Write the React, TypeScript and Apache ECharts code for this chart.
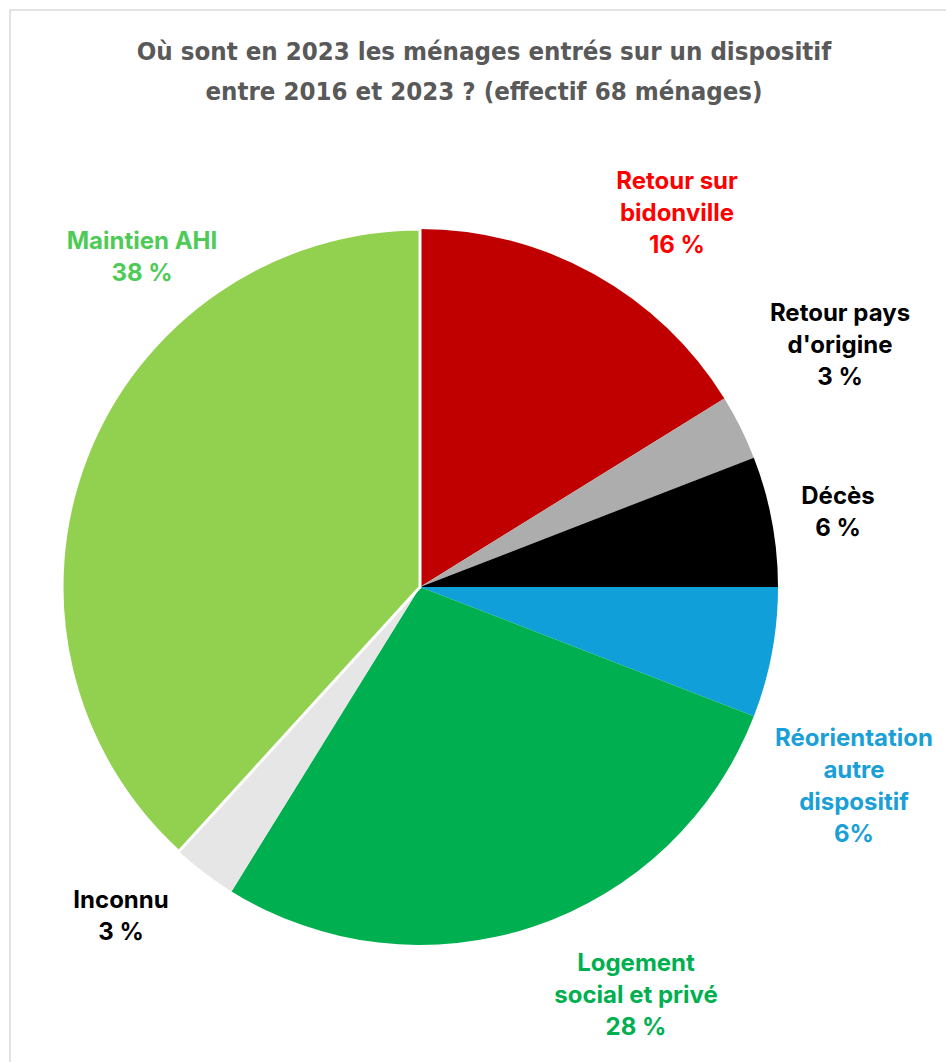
import React, { useEffect, useRef } from "react";
import * as echarts from "echarts";

const TITLE_LINES = [
  "Où sont en 2023 les ménages entrés sur un dispositif",
  "entre 2016 et 2023 ? (effectif 68 ménages)",
];

const categories = [
  "Retour sur\nbidonville",
  "Retour pays\nd'origine",
  "Décès",
  "Réorientation\nautre\ndispositif",
  "Logement\nsocial et privé",
  "Inconnu",
  "Maintien AHI",
];

// number of households (total 68)
const households = [11, 2, 4, 4, 19, 2, 26];

const percentSeparators = [" ", " ", " ", "", " ", " ", " "];

const sliceColors = ["#C00000", "#ADADAD", "#000000", "#109FD8", "#00B050", "#E7E6E6", "#92D050"];
const labelColors = ["#FF0000", "#000000", "#000000", "#1A9FD8", "#00B050", "#000000", "#4ECB56"];
const sliceBorders = [0, 0, 0, 0, 0, 0, 3];

const labelCenters: [number, number][] = [
  [677, 212],
  [840, 344],
  [838, 511],
  [854, 785],
  [636, 994],
  [121, 915],
  [142, 256],
];

export default function App() {
  const ref = useRef<HTMLDivElement>(null);

  useEffect(() => {
    if (!ref.current) return;
    const chart = echarts.init(ref.current, null, { renderer: "svg" });
    chart.setOption({
      animation: false,
      backgroundColor: "#FFFFFF",
      graphic: [
        {
          type: "rect",
          shape: { x: 10, y: 10, width: 1000, height: 1100 },
          style: { fill: "none", stroke: "#D9D9D9", lineWidth: 1.5 },
          silent: true,
        },
        ...TITLE_LINES.map((t, i) => ({
          type: "text",
          x: 484,
          y: 51 + i * 40,
          style: {
            text: t,
            fill: "#595959",
            font: "bold 25.6px 'Liberation Sans Narrow', 'DejaVu Sans Condensed', sans-serif",
            textAlign: "center",
            textVerticalAlign: "middle",
          },
        })),
      ],
      series: [
        {
          type: "pie",
          center: [420, 587],
          radius: 358,
          startAngle: 90,
          clockwise: true,
          avoidLabelOverlap: false,
          label: {
            show: true,
            position: "outside",
            fontFamily: "Inter",
            fontWeight: "bold",
            fontSize: 24,
            lineHeight: 32,
            align: "center",
            formatter: (p: any) =>
              `${categories[p.dataIndex]}\n${Math.round(p.percent)}${percentSeparators[p.dataIndex]}%`,
          },
          labelLine: { show: false },
          labelLayout: (p: any) => ({
            x: labelCenters[p.dataIndex][0],
            y: labelCenters[p.dataIndex][1],
            align: "center",
            verticalAlign: "middle",
          }),
          emphasis: { disabled: true },
          data: households.map((v, i) => ({
            name: categories[i],
            value: v,
            itemStyle: {
              color: sliceColors[i],
              borderColor: "#FFFFFF",
              borderWidth: sliceBorders[i],
            },
            label: { color: labelColors[i] },
          })),
        },
      ],
    });
    return () => chart.dispose();
  }, []);

  return (
    <div
      ref={ref}
      style={{ position: "absolute", left: 0, top: 0, width: 946, height: 1062 }}
    />
  );
}
